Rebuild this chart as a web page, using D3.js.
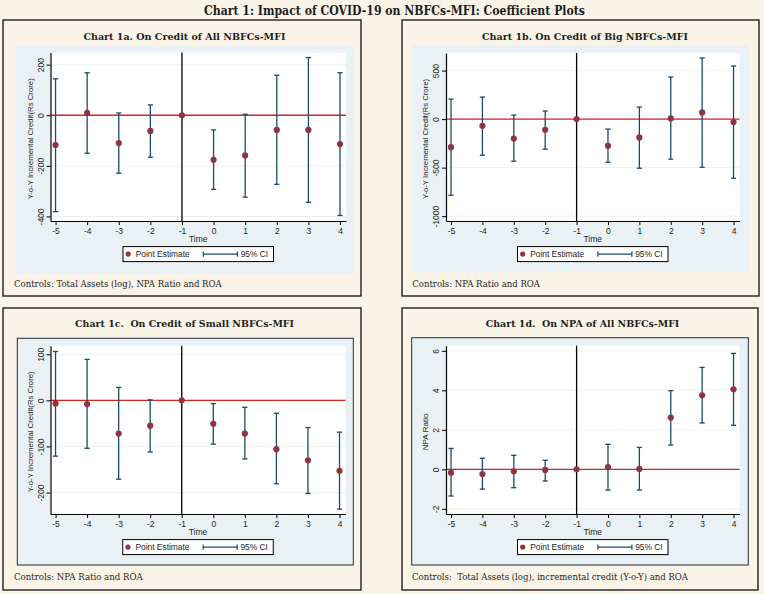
<!DOCTYPE html>
<html><head><meta charset="utf-8">
<script src="https://cdn.jsdelivr.net/npm/d3@7"></script>
<style>body{margin:0;background:#FAF3E8;} svg{display:block}</style>
</head><body><svg id="c" width="764" height="594"></svg>
<script>
// ---------- DATA ----------
const times = [-5, -4, -3, -2, -1, 0, 1, 2, 3, 4];
const xTicks = [-5, -4, -3, -2, -1, 0, 1, 2, 3, 4];
const eventTime = -1;

const est1a = [-118, 9, -110, -62, 0, -176, -159, -58, -58, -114];
const lo1a  = [-381, -150, -229, -166, null, -293, -324, -273, -344, -396];
const hi1a  = [144, 168, 9, 41, null, -58, 4, 158, 228, 168];

const est1b = [-289, -69, -200, -110, 0, -275, -189, 7, 69, -31];
const lo1b  = [-785, -372, -434, -310, null, -444, -506, -413, -496, -609];
const hi1b  = [206, 227, 41, 83, null, -103, 124, 434, 630, 547];

const est1c = [-7, -8, -72, -55, 0, -51, -72, -106, -130, -153];
const lo1c  = [-121, -104, -171, -112, null, -95, -127, -181, -202, -236];
const hi1c  = [106, 89, 28, 1, null, -7, -15, -28, -59, -69];

const est1d = [-0.17, -0.24, -0.10, -0.03, 0, 0.12, 0.02, 2.62, 3.75, 4.05];
const lo1d  = [-1.35, -1.00, -0.93, -0.59, null, -1.05, -1.05, 1.23, 2.35, 2.23];
const hi1d  = [1.06, 0.56, 0.71, 0.46, null, 1.27, 1.11, 3.98, 5.16, 5.87];

const yTicks1a = [-400, -200, 0, 200];
const yTicks1b = [-1000, -500, 0, 500];
const yTicks1c = [-200, -100, 0, 100];
const yTicks1d = [-2, 0, 2, 4, 6];

const mainTitle = "Chart 1: Impact of COVID-19 on NBFCs-MFI: Coefficient Plots";
const panelTitles = [
  "Chart 1a. On Credit of All NBFCs-MFI",
  "Chart 1b. On Credit of Big NBFCs-MFI",
  "Chart 1c.\u00A0 On Credit of Small NBFCs-MFI",
  "Chart 1d.\u00A0 On NPA of All NBFCs-MFI"
];
const controlsTexts = [
  "Controls: Total Assets (log), NPA Ratio and ROA",
  "Controls: NPA Ratio and ROA",
  "Controls: NPA Ratio and ROA",
  "Controls:\u00A0 Total Assets (log), incremental credit (Y-o-Y) and ROA"
];
const yTitleCredit = "Y-o-Y Incremental Credit(Rs Crore)";
const yTitleNpa = "NPA Ratio";
const xTitle = "Time";
const legendLabels = ["Point Estimate", "95% CI"];

// ---------- STYLE ----------
const C = {
  cream: "#FAF3E8", border: "#231F20", region: "#EAF1F4",
  point: "#8F3440", ci: "#1C4A6E", zero: "#D9231F", text: "#1E1E1E", grid: "#EDEFF0"
};
const serif = "'DejaVu Serif', 'Liberation Serif', serif";
const sans = "'Liberation Sans', Arial, sans-serif";

const svg = d3.select("#c");
svg.append("rect").attr("width", 764).attr("height", 594).attr("fill", C.cream);

svg.append("text").attr("x", 204).attr("y", 15)
  .attr("textLength", 381).attr("lengthAdjust", "spacingAndGlyphs")
  .attr("font-family", serif).attr("font-weight", "bold").attr("font-size", 12)
  .attr("fill", C.text).text(mainTitle);

const panels = [
  { box: [3, 20, 361, 296], region: [16, 46, 354, 273], regionBorder: false,
    plot: [50.5, 52.5, 346, 221], yDom: [-418, 248], ticks: yTicks1a,
    est: est1a, lo: lo1a, hi: hi1a, yTitle: yTitleCredit, yTitleLen: 121,
    title: panelTitles[0], titleX: 83.4, titleLen: 202, titleY: 40,
    ctrl: controlsTexts[0], ctrlX: 14, ctrlLen: 207.7, ctrlY: 287 },
  { box: [402, 20, 759, 296], region: [411.7, 45, 749, 272.3], regionBorder: false,
    plot: [446, 53, 739.5, 221], yDom: [-1050, 681], ticks: yTicks1b,
    est: est1b, lo: lo1b, hi: hi1b, yTitle: yTitleCredit, yTitleLen: 120,
    title: panelTitles[1], titleX: 482, titleLen: 206, titleY: 40,
    ctrl: controlsTexts[1], ctrlX: 412.3, ctrlLen: 127.7, ctrlY: 287 },
  { box: [3, 308, 361, 590], region: [17.3, 338.3, 353.3, 565], regionBorder: true,
    plot: [50.5, 345.7, 345.5, 514], yDom: [-246.6, 118.6], ticks: yTicks1c,
    est: est1c, lo: lo1c, hi: hi1c, yTitle: yTitleCredit, yTitleLen: 121,
    title: panelTitles[2], titleX: 75, titleLen: 219, titleY: 327,
    ctrl: controlsTexts[2], ctrlX: 14, ctrlLen: 128.7, ctrlY: 580 },
  { box: [402, 308, 758, 590], region: [411.7, 337.7, 748.3, 565], regionBorder: true,
    plot: [446, 345.7, 739.5, 514], yDom: [-2.26, 6.26], ticks: yTicks1d,
    est: est1d, lo: lo1d, hi: hi1d, yTitle: yTitleNpa, yTitleLen: 37,
    title: panelTitles[3], titleX: 485.7, titleLen: 193.6, titleY: 327,
    ctrl: controlsTexts[3], ctrlX: 412, ctrlLen: 276, ctrlY: 580 }
];

panels.forEach(p => {
  const g = svg.append("g");
  const [bx0, by0, bx1, by1] = p.box;
  g.append("rect").attr("x", bx0).attr("y", by0).attr("width", bx1 - bx0).attr("height", by1 - by0)
    .attr("fill", C.cream).attr("stroke", C.border).attr("stroke-width", 1.4);
  const [rx0, ry0, rx1, ry1] = p.region;
  g.append("rect").attr("x", rx0).attr("y", ry0).attr("width", rx1 - rx0).attr("height", ry1 - ry0)
    .attr("fill", C.region).attr("stroke", p.regionBorder ? "#1F2A3A" : "none").attr("stroke-width", 1);
  const [px0, py0, px1, py1] = p.plot;
  g.append("rect").attr("x", px0).attr("y", py0).attr("width", px1 - px0).attr("height", py1 - py0)
    .attr("fill", "#FFFFFF");

  // titles
  g.append("text").attr("x", p.titleX).attr("y", p.titleY)
    .attr("textLength", p.titleLen).attr("lengthAdjust", "spacingAndGlyphs")
    .attr("font-family", serif).attr("font-weight", "bold").attr("font-size", 10)
    .attr("fill", C.text).text(p.title);
  g.append("text").attr("x", p.ctrlX).attr("y", p.ctrlY)
    .attr("textLength", p.ctrlLen).attr("lengthAdjust", "spacingAndGlyphs")
    .attr("font-family", serif).attr("font-size", 8.5)
    .attr("fill", C.text).text(p.ctrl);

  const x = d3.scaleLinear().domain([-5.16, 4.19]).range([px0, px1]);
  const y = d3.scaleLinear().domain(p.yDom).range([py1, py0]);

  // gridlines
  g.append("g").selectAll("line").data(p.ticks).join("line")
    .attr("x1", px0).attr("x2", px1).attr("y1", d => y(d)).attr("y2", d => y(d))
    .attr("stroke", C.grid).attr("stroke-width", 1);

  // zero line
  g.append("line").attr("x1", px0).attr("x2", px1).attr("y1", y(0)).attr("y2", y(0))
    .attr("stroke", C.zero).attr("stroke-width", 1.3);
  // event line
  g.append("line").attr("x1", x(eventTime)).attr("x2", x(eventTime)).attr("y1", py0).attr("y2", py1)
    .attr("stroke", "#000").attr("stroke-width", 1.3);

  const rows = times.map((t, i) => ({ t, e: p.est[i], lo: p.lo[i], hi: p.hi[i] }));
  const ciRows = rows.filter(r => r.lo !== null);
  const cap = 2.6;
  const ciG = g.append("g").attr("stroke", C.ci).attr("stroke-width", 1.3).attr("fill", "none");
  ciG.selectAll(".v").data(ciRows).join("line")
    .attr("x1", d => x(d.t)).attr("x2", d => x(d.t)).attr("y1", d => y(d.lo)).attr("y2", d => y(d.hi));
  ciG.selectAll(".l").data(ciRows).join("line")
    .attr("x1", d => x(d.t) - cap).attr("x2", d => x(d.t) + cap).attr("y1", d => y(d.lo)).attr("y2", d => y(d.lo));
  ciG.selectAll(".h").data(ciRows).join("line")
    .attr("x1", d => x(d.t) - cap).attr("x2", d => x(d.t) + cap).attr("y1", d => y(d.hi)).attr("y2", d => y(d.hi));

  g.append("g").selectAll("circle").data(rows).join("circle")
    .attr("cx", d => x(d.t)).attr("cy", d => y(d.e)).attr("r", 3.1).attr("fill", C.point);

  // axes
  const xa = g.append("g").attr("transform", `translate(0,${py1})`)
    .call(d3.axisBottom(x).tickValues(xTicks).tickSizeInner(4).tickSizeOuter(0).tickFormat(d => String(d)));
  xa.select(".domain").attr("stroke", "#000").attr("stroke-width", 1.2);
  xa.selectAll(".tick line").attr("stroke", "#000").attr("stroke-width", 1);
  xa.selectAll(".tick text").attr("y", 6.5).attr("dy", "0.71em")
    .attr("font-family", sans).attr("font-size", 8.5).attr("fill", C.text);

  const ya = g.append("g").attr("transform", `translate(${px0},0)`)
    .call(d3.axisLeft(y).tickValues(p.ticks).tickSizeInner(4).tickSizeOuter(0).tickFormat(d => String(d)));
  ya.select(".domain").attr("stroke", "#000").attr("stroke-width", 1.2);
  ya.selectAll(".tick line").attr("stroke", "#000").attr("stroke-width", 1);
  ya.selectAll(".tick text").attr("transform", "rotate(-90)")
    .attr("x", 0).attr("y", -6.8).attr("dy", 0).attr("text-anchor", "middle")
    .attr("font-family", sans).attr("font-size", 8.5).attr("fill", C.text);

  // axis titles
  g.append("text").attr("x", (px0 + px1) / 2).attr("y", py1 + 20.5).attr("text-anchor", "middle")
    .attr("font-family", sans).attr("font-size", 8.5).attr("fill", C.text).text(xTitle);
  const ycx = px0 - 17.8, ycy = (py0 + py1) / 2 + 2;
  g.append("text").attr("transform", `translate(${ycx},${ycy}) rotate(-90)`)
    .attr("text-anchor", "middle").attr("textLength", p.yTitleLen).attr("lengthAdjust", "spacingAndGlyphs")
    .attr("font-family", sans).attr("font-size", 7.8).attr("fill", C.text).text(p.yTitle);

  // legend
  const lw = 150.5, lh = 15;
  const lx = (px0 + px1) / 2 - lw / 2, ly = py1 + 25.6;
  const lg = g.append("g").attr("transform", `translate(${lx},${ly})`);
  lg.append("rect").attr("width", lw).attr("height", lh).attr("fill", "#fff")
    .attr("stroke", "#000").attr("stroke-width", 1);
  lg.append("circle").attr("cx", 5.2).attr("cy", lh / 2).attr("r", 2.6).attr("fill", C.point);
  lg.append("text").attr("x", 12.7).attr("y", lh / 2 + 3).attr("font-family", sans).attr("font-size", 8.4)
    .attr("fill", C.text).text(legendLabels[0]);
  const lc = lg.append("g").attr("stroke", C.ci).attr("stroke-width", 1.2);
  lc.append("line").attr("x1", 80.4).attr("x2", 114.4).attr("y1", lh / 2).attr("y2", lh / 2);
  lc.append("line").attr("x1", 80.4).attr("x2", 80.4).attr("y1", lh / 2 - 2.6).attr("y2", lh / 2 + 2.6);
  lc.append("line").attr("x1", 114.4).attr("x2", 114.4).attr("y1", lh / 2 - 2.6).attr("y2", lh / 2 + 2.6);
  lg.append("text").attr("x", 117.7).attr("y", lh / 2 + 3).attr("font-family", sans).attr("font-size", 8.4)
    .attr("fill", C.text).text(legendLabels[1]);
});
</script></body></html>
